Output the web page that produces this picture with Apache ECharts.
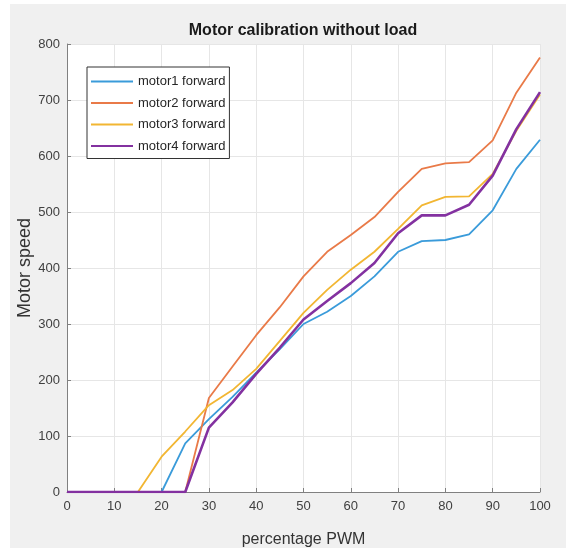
<!DOCTYPE html>
<html>
<head>
<meta charset="utf-8">
<script src="https://cdn.jsdelivr.net/npm/echarts@6/dist/echarts.min.js"></script>
<style>
  html, body { margin: 0; padding: 0; background: #fff; }
  #frame { position: absolute; left: 10px; top: 4px; width: 556px; height: 544px; background: #f0f0f0; }
  #chart { position: absolute; left: 0; top: 0; width: 576px; height: 548px; }
</style>
</head>
<body>
<div id="frame"></div>
<div id="chart"></div>
<script>
const pwm = [0, 5, 10, 15, 20, 25, 30, 35, 40, 45, 50, 55, 60, 65, 70, 75, 80, 85, 90, 95, 100]
const motor1 = [0, 0, 0, 0, 0, 87, 130, 170, 213, 255, 300, 322, 350, 385, 429, 448, 450, 460, 503, 577, 629]
const motor2 = [0, 0, 0, 0, 0, 0, 168, 224, 280, 330, 385, 429, 459, 491, 536, 577, 587, 589, 628, 713, 776]
const motor3 = [0, 0, 0, 0, 63, 108, 155, 182, 220, 270, 320, 361, 397, 429, 470, 512, 527, 528, 568, 645, 710]
const motor4 = [0, 0, 0, 0, 0, 0, 115, 160, 211, 258, 308, 341, 373, 409, 462, 494, 494, 513, 565, 648, 714]

const seriesNames = ['motor1 forward', 'motor2 forward', 'motor3 forward', 'motor4 forward']
const seriesData = [motor1, motor2, motor3, motor4]
const colors = ['#3A9BDA', '#E97A48', '#F2B632', '#8331A0']
const widths = [1.8, 1.8, 1.8, 2.6]

const chart = echarts.init(document.getElementById('chart'))
const font = 'Liberation Sans, Arial, sans-serif'

chart.setOption({
  backgroundColor: 'transparent',
  animation: false,
  title: {
    text: 'Motor calibration without load',
    left: 298,
    textAlign: 'center',
    top: 18,
    textStyle: { fontFamily: font, fontSize: 16, fontWeight: 'bold', color: '#1a1a1a' },
  },
  grid: {
    left: 67, right: 36, top: 44, bottom: 56,
    outerBoundsMode: 'none',
    show: true, backgroundColor: '#ffffff', borderWidth: 0,
  },
  legend: {
    orient: 'vertical',
    left: 87, top: 67,
    padding: [8, 4, 6, 4],
    itemGap: 8.5,
    itemWidth: 42,
    itemHeight: 2,
    icon: 'rect',
    backgroundColor: '#ffffff',
    borderColor: '#333333',
    borderWidth: 1,
    textStyle: { fontFamily: font, fontSize: 13, color: '#262626' },
    data: seriesNames,
  },
  xAxis: {
    type: 'value',
    min: 0, max: 100, interval: 10,
    name: 'percentage PWM',
    nameLocation: 'middle',
    nameGap: 40,
    nameMoveOverlap: false,
    nameTextStyle: { fontFamily: font, fontSize: 16, color: '#333' },
    axisLine: { show: true, lineStyle: { color: '#808080' } },
    axisTick: { show: true, inside: true, length: 4, lineStyle: { color: '#808080' } },
    axisLabel: { fontFamily: font, fontSize: 13, color: '#404040', margin: 8 },
    splitLine: { show: true, lineStyle: { color: '#e6e6e6' } },
  },
  yAxis: {
    type: 'value',
    min: 0, max: 800, interval: 100,
    name: 'Motor speed',
    nameLocation: 'middle',
    nameGap: 33,
    nameMoveOverlap: false,
    nameTextStyle: { fontFamily: font, fontSize: 18, color: '#333' },
    axisLine: { show: true, lineStyle: { color: '#808080' } },
    axisTick: { show: true, inside: true, length: 4, lineStyle: { color: '#808080' } },
    axisLabel: { fontFamily: font, fontSize: 13, color: '#404040', margin: 7 },
    splitLine: { show: true, lineStyle: { color: '#e6e6e6' } },
  },
  series: seriesNames.map((name, i) => ({
    name,
    type: 'line',
    data: pwm.map((x, j) => [x, seriesData[i][j]]),
    symbol: 'none',
    color: colors[i],
    lineStyle: { color: colors[i], width: widths[i] },
    z: 2 + i,
  })),
})
</script>
</body>
</html>
